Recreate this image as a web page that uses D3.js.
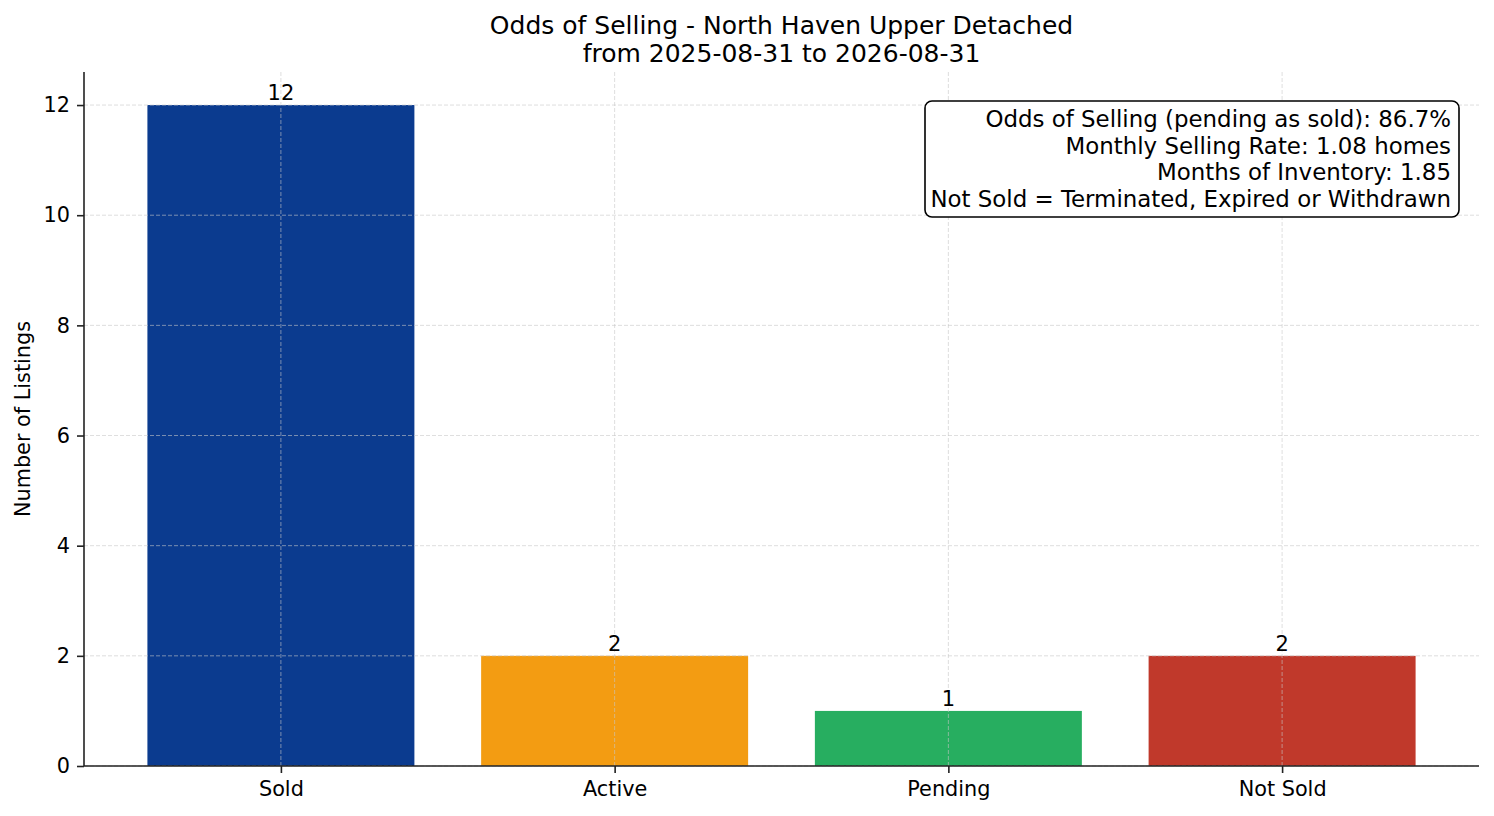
<!DOCTYPE html>
<html>
<head>
<meta charset="utf-8">
<script src="https://cdn.jsdelivr.net/npm/d3@7/dist/d3.min.js"></script>
<style>
    body { margin: 0; background: #fff; }
    svg { display: block; font-family: "DejaVu Sans", sans-serif; }
</style>
</head>
<body>
<div id="chart"></div>
<script>
// Chart data
const categories = ["Sold", "Active", "Pending", "Not Sold"];
const counts = [12, 2, 1, 2];
const barColors = ["#0b3b8f", "#f39c12", "#27ae60", "#c0392b"];
const yTicks = [0, 2, 4, 6, 8, 10, 12];
const titleLines = ["Odds of Selling - North Haven Upper Detached", "from 2025-08-31 to 2026-08-31"];
const statLines = [
    "Odds of Selling (pending as sold): 86.7%",
    "Monthly Selling Rate: 1.08 homes",
    "Months of Inventory: 1.85",
    "Not Sold = Terminated, Expired or Withdrawn"
];

const width = 1494, height = 816;
const margin = { top: 72, right: 15, bottom: 50, left: 84 };
const innerW = width - margin.left - margin.right;
const innerH = height - margin.top - margin.bottom;

const svg = d3.select("#chart")
    .append("svg")
    .attr("width", width)
    .attr("height", height);

const g = svg.append("g")
    .attr("transform", `translate(${margin.left},${margin.top})`);

// x: linear over bar index, like matplotlib's bar positions with 5% margins
const x = d3.scaleLinear()
    .domain([-0.59, categories.length - 1 + 0.59])
    .range([0, innerW]);
const barW = x(0.8) - x(0);

const y = d3.scaleLinear()
    .domain([0, 12.6])
    .range([innerH, 0]);

// Bars
g.selectAll(".bar")
    .data(counts)
    .join("rect")
    .attr("class", "bar")
    .attr("x", (d, i) => x(i) - barW / 2)
    .attr("y", d => y(d))
    .attr("width", barW)
    .attr("height", d => innerH - y(d))
    .style("fill", (d, i) => barColors[i]);

// Grid on top of bars
const grid = g.append("g").attr("class", "grid");
grid.selectAll(".hgrid")
    .data(yTicks)
    .join("line")
    .attr("x1", 0).attr("x2", innerW)
    .attr("y1", d => y(d)).attr("y2", d => y(d))
    .style("stroke", "#c8c8c8")
    .style("stroke-opacity", 0.75)
    .style("stroke-width", 0.8)
    .style("stroke-dasharray", "4,2");
grid.selectAll(".vgrid")
    .data(categories)
    .join("line")
    .attr("x1", (d, i) => x(i)).attr("x2", (d, i) => x(i))
    .attr("y1", 0).attr("y2", innerH)
    .style("stroke", "#c8c8c8")
    .style("stroke-opacity", 0.75)
    .style("stroke-width", 0.8)
    .style("stroke-dasharray", "4,2");

// Value labels
g.selectAll(".value")
    .data(counts)
    .join("text")
    .attr("class", "value")
    .attr("x", (d, i) => x(i))
    .attr("y", d => y(d) - 5)
    .attr("text-anchor", "middle")
    .style("font-size", "21px")
    .style("fill", "#000")
    .text(d => d);

// Axes
const xAxis = g.append("g")
    .attr("transform", `translate(0,${innerH})`)
    .call(d3.axisBottom(x)
        .tickValues(d3.range(categories.length))
        .tickFormat(i => categories[i])
        .tickSize(7)
        .tickPadding(8));

const yAxis = g.append("g")
    .call(d3.axisLeft(y)
        .tickValues(yTicks)
        .tickSize(7)
        .tickPadding(7));

[xAxis, yAxis].forEach(ax => {
    ax.selectAll("text")
        .style("font-family", "DejaVu Sans, sans-serif")
        .style("font-size", "20.8px")
        .style("fill", "#000");
    ax.selectAll("line").style("stroke", "#222").style("stroke-width", 1.6);
    ax.select(".domain").style("stroke", "#222").style("stroke-width", 1.6);
});
xAxis.select(".domain").attr("d", `M0,0H${innerW}`);
yAxis.select(".domain").attr("d", `M0,${innerH}V0`);

// Y label
svg.append("text")
    .attr("transform", `translate(30,${margin.top + innerH / 2}) rotate(-90)`)
    .attr("text-anchor", "middle")
    .style("font-size", "20.8px")
    .style("fill", "#000")
    .text("Number of Listings");

// Title
svg.selectAll(".title")
    .data(titleLines)
    .join("text")
    .attr("class", "title")
    .attr("x", margin.left + innerW / 2)
    .attr("y", (d, i) => 34 + i * 28)
    .attr("text-anchor", "middle")
    .style("font-size", "25px")
    .style("fill", "#000")
    .text(d => d);

// Stats box
const box = svg.append("g");
box.append("rect")
    .attr("x", 925).attr("y", 101)
    .attr("width", 534).attr("height", 116)
    .attr("rx", 7).attr("ry", 7)
    .style("fill", "#fff")
    .style("stroke", "#000")
    .style("stroke-width", 1.6);
box.selectAll("text")
    .data(statLines)
    .join("text")
    .attr("x", 1451)
    .attr("y", (d, i) => 127 + i * 26.7)
    .attr("text-anchor", "end")
    .style("font-size", "22.9px")
    .style("fill", "#000")
    .text(d => d);
</script>
</body>
</html>
